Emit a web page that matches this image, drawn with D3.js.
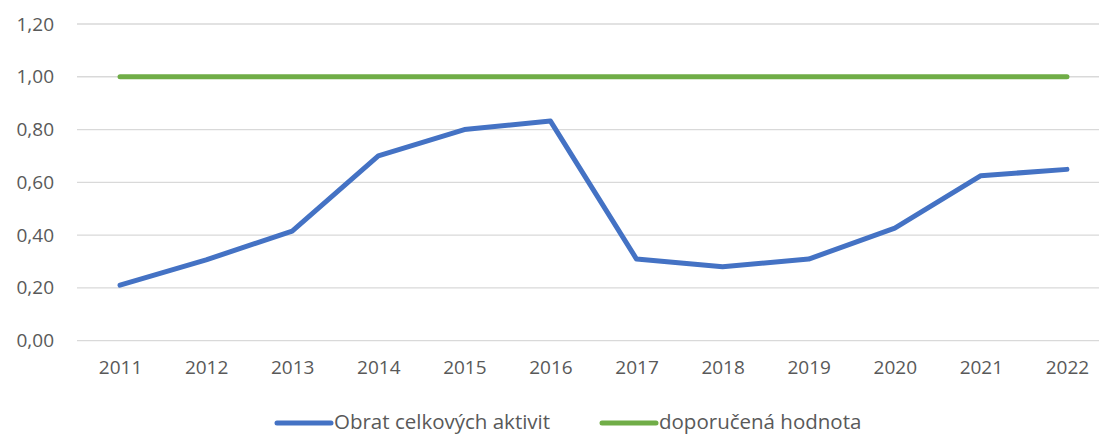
<!DOCTYPE html>
<html>
<head>
<meta charset="utf-8">
<script src="https://cdn.jsdelivr.net/npm/d3@7"></script>
<style>
    body { margin: 0; background: #fff; }
    text { font-family: "Open Sans", sans-serif; fill: #595959; }
</style>
</head>
<body>
<div id="chart"></div>
<script>
// Data
var years = ["2011", "2012", "2013", "2014", "2015", "2016", "2017", "2018", "2019", "2020", "2021", "2022"];
var obratValues = [0.21, 0.306, 0.415, 0.70, 0.80, 0.832, 0.309, 0.28, 0.309, 0.426, 0.625, 0.649];
var doporucenaValues = [1, 1, 1, 1, 1, 1, 1, 1, 1, 1, 1, 1];
var yTicks = [0, 0.2, 0.4, 0.6, 0.8, 1.0, 1.2];

var seriesList = [
    { name: "Obrat celkových aktivit", values: obratValues, color: "#4472c4" },
    { name: "doporučená hodnota", values: doporucenaValues, color: "#70ad47" }
];

var svgWidth = 1099;
var svgHeight = 435;

var svg = d3.select("#chart").append("svg")
    .attr("width", svgWidth)
    .attr("height", svgHeight);

// Scales
var xScale = d3.scalePoint()
    .domain(years)
    .range([77, 1110])
    .padding(0.5);

var yScale = d3.scaleLinear()
    .domain([0, 1.2])
    .range([340.6, 24]);

var fmt = d3.format(".2f");

// Gridlines
svg.append("g")
    .selectAll("line")
    .data(yTicks)
    .enter()
    .append("line")
    .attr("x1", 77)
    .attr("x2", 1110)
    .attr("y1", d => yScale(d))
    .attr("y2", d => yScale(d))
    .attr("stroke", "#d9d9d9")
    .attr("stroke-width", 1.3);

// Y axis
var leftAxis = d3.axisLeft(yScale)
    .tickValues(yTicks)
    .tickSize(0)
    .tickPadding(0)
    .tickFormat(d => fmt(d).replace(".", ","));

var yAxisGroup = svg.append("g")
    .attr("transform", "translate(54, 0)")
    .call(leftAxis);
yAxisGroup.select(".domain").remove();
yAxisGroup.selectAll("text")
    .style("font-size", "19px")
    .attr("fill", "#595959");

// X axis
var bottomAxis = d3.axisBottom(xScale)
    .tickSize(0)
    .tickPadding(0);

var xAxisGroup = svg.append("g")
    .attr("transform", "translate(0, 360)")
    .call(bottomAxis);
xAxisGroup.select(".domain").remove();
xAxisGroup.selectAll("text")
    .style("font-size", "19px")
    .attr("fill", "#595959");

// Lines
var lineGen = d3.line()
    .x((d, i) => xScale(years[i]))
    .y(d => yScale(d));

svg.selectAll(".series")
    .data(seriesList.slice().reverse())
    .enter()
    .append("path")
    .attr("class", "series")
    .attr("d", d => lineGen(d.values))
    .attr("fill", "none")
    .attr("stroke", d => d.color)
    .attr("stroke-width", 5)
    .attr("stroke-linejoin", "round")
    .attr("stroke-linecap", "round");

// Legend
var legendX = [277, 602];
var legend = svg.selectAll(".legend")
    .data(seriesList)
    .enter()
    .append("g")
    .attr("class", "legend")
    .attr("transform", (d, i) => `translate(${legendX[i]}, 423)`);

legend.append("line")
    .attr("x1", 0)
    .attr("x2", 54)
    .attr("stroke", d => d.color)
    .attr("stroke-width", 5)
    .attr("stroke-linecap", "round");

legend.append("text")
    .attr("x", 57)
    .attr("dy", "0.3em")
    .style("font-size", "20.5px")
    .text(d => d.name);
</script>
</body>
</html>
